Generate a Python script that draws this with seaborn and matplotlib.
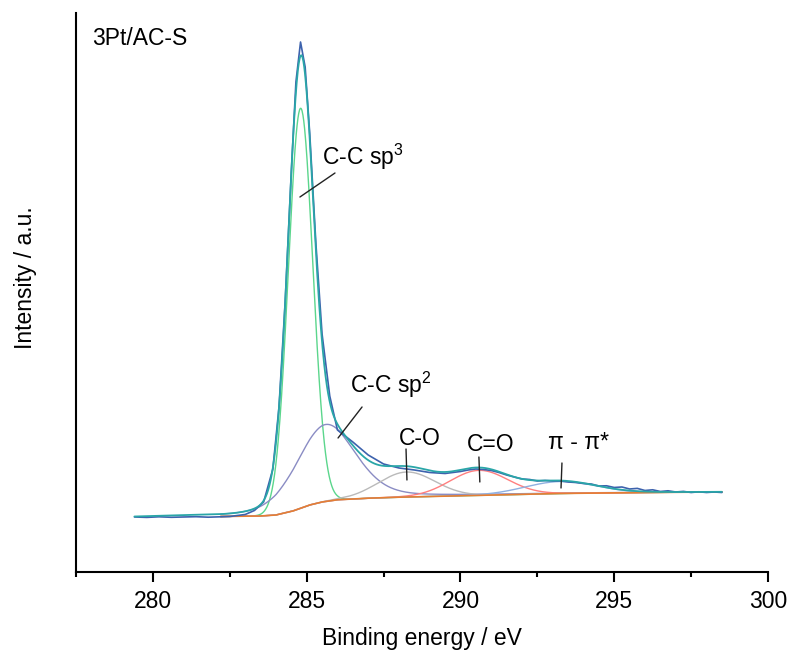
import numpy as np
import pandas as pd
import matplotlib
matplotlib.use('Agg')
import matplotlib.pyplot as plt
from matplotlib.ticker import MultipleLocator
import seaborn as sns

data_x = [279.4, 279.8, 280.2, 280.6, 281.0, 281.4, 281.8, 282.2, 282.5, 283.0, 283.3, 283.6,
          283.9, 284.1, 284.3, 284.5, 284.65, 284.8, 284.95, 285.1, 285.3, 285.5, 285.75,
          286.0, 286.5, 287.0, 287.5, 288.0, 288.5, 289.0, 289.5, 290.0, 290.25, 290.5,
          290.75, 291.0, 291.25, 291.5, 291.75, 292.0, 292.25, 292.5, 292.75, 293.0, 293.25,
          293.5, 293.75, 294.0, 294.25, 294.5, 294.75, 295.0, 295.25, 295.5, 295.75, 296.0,
          296.25, 296.5, 296.75, 297.0, 297.25, 297.5, 297.75, 298.0, 298.25, 298.5]
data_y = [5.5, 5.46, 5.52, 5.47, 5.5, 5.53, 5.48, 5.52, 5.55, 5.75, 6.15, 7.0,
          10.3, 16.5, 27.0, 40.0, 49.0, 53.0, 50.5, 43.8, 32.8, 23.8, 17.6,
          14.2, 13.0, 11.7, 10.8, 10.4, 10.2, 9.95, 9.85, 10.05, 10.2, 10.3,
          10.25, 10.15, 9.95, 9.7, 9.5, 9.3, 9.25, 9.1, 9.15, 9.1, 9.1,
          9.0, 8.95, 8.85, 8.8, 8.6, 8.62, 8.45, 8.5, 8.3, 8.36, 8.15,
          8.22, 8.05, 8.12, 8.0, 8.06, 7.95, 8.02, 7.95, 8.0, 7.95]

# Shirley background
bg_x = [282.2, 283.5, 284.0, 284.55, 285.1, 285.5, 286.0, 287.0, 288.0, 290.0, 293.2, 296.0, 298.5]
bg_y = [5.55, 5.6, 5.7, 6.1, 6.7, 7.0, 7.22, 7.38, 7.48, 7.62, 7.85, 7.95, 8.0]

# fitted components
comp_names = ['C-C sp3', 'C-C sp2', 'C-O', 'C=O', 'pi-pi*']
comp_center = [284.8, 285.62, 288.25, 290.6, 293.25]
comp_height = [40.0, 7.7, 2.5, 2.5, 1.2]
comp_fwhm = [0.93, 2.25, 2.15, 2.2, 2.7]
comp_lfrac = [0.0, 0.3, 0.0, 0.0, 0.0]
comp_colors = ['#5bd68c', '#8a8cc4', '#bababa', '#ff7f7f', '#8fb0e0']

labels = ['C-C sp$^3$', 'C-C sp$^2$', 'C-O', 'C=O', 'π - π*']

sns.set_style('ticks')
plt.rcParams['font.family'] = ['Liberation Sans', 'DejaVu Sans']
plt.rcParams['mathtext.fontset'] = 'custom'
plt.rcParams['mathtext.rm'] = 'Liberation Sans'
plt.rcParams['mathtext.it'] = 'Liberation Sans:italic'
plt.rcParams['text.color'] = 'black'
plt.rcParams['axes.labelcolor'] = 'black'
plt.rcParams['xtick.color'] = 'black'
plt.rcParams['xtick.labelcolor'] = 'black'


def pseudo_voigt(x, c, h, w, eta):
    g = np.exp(-4 * np.log(2) * ((x - c) / w) ** 2)
    l = 1 / (1 + 4 * ((x - c) / w) ** 2)
    return h * ((1 - eta) * g + eta * l)


grid = np.linspace(bg_x[0], bg_x[-1], 1200)
bg_grid = np.interp(grid, bg_x, bg_y)

rows = []
envelope = bg_grid.copy()
for name, c, h, w, eta in zip(comp_names, comp_center, comp_height, comp_fwhm, comp_lfrac):
    peak = pseudo_voigt(grid, c, h, w, eta)
    envelope += peak
    rows.append(pd.DataFrame({'x': grid, 'y': bg_grid + peak, 'comp': name}))
comps = pd.concat(rows, ignore_index=True)

env_x = np.concatenate([[data_x[0]], grid])
env_y = np.concatenate([[bg_y[0]], envelope])

fig = plt.figure(figsize=(7.92, 6.54), dpi=100)
ax = fig.add_axes([0.0960, 0.1254, 0.8737, 0.8547])

sns.lineplot(data=comps, x='x', y='y', hue='comp', palette=dict(zip(comp_names, comp_colors)),
             estimator=None, sort=False, linewidth=1.0, legend=False, ax=ax)
sns.lineplot(x=bg_x, y=bg_y, color='#e67e33', linewidth=1.2, ax=ax)
sns.lineplot(x=data_x, y=data_y, color='#3d62ad', linewidth=1.2, sort=False, ax=ax)
sns.lineplot(x=env_x, y=env_y, color='#2aa6a8', linewidth=1.3, sort=False, ax=ax)

# peak labels with leader lines
label_pos = [(285.5, 40.7), (286.41, 17.9), (288.0, 12.7), (290.21, 12.1), (292.85, 12.3)]
leaders = [((285.92, 39.9), (284.78, 37.5)),
           ((286.80, 16.5), (286.02, 13.4)),
           ((288.23, 12.3), (288.26, 9.2)),
           ((290.60, 11.5), (290.63, 9.0)),
           ((293.30, 10.9), (293.27, 8.4))]
for txt, (tx, ty), (p0, p1) in zip(labels, label_pos, leaders):
    ax.text(tx, ty, txt, fontsize=16.5, ha='left', va='baseline')
    ax.annotate('', xy=p1, xytext=p0,
                arrowprops=dict(arrowstyle='-', color='#222222', lw=1.0, shrinkA=0, shrinkB=0))

ax.text(0.023, 0.943, '3Pt/AC-S', transform=ax.transAxes, fontsize=16.5, ha='left', va='baseline')

ax.set_xlim(277.5, 300)
ax.set_ylim(0, 55.9)
ax.xaxis.set_major_locator(MultipleLocator(5))
ax.xaxis.set_minor_locator(MultipleLocator(2.5))
ax.set_yticks([])
ax.tick_params(axis='x', which='major', length=7.2, width=1.5, labelsize=16.5, pad=6, color='black')
ax.tick_params(axis='x', which='minor', length=3.5, width=1.5, color='black')
for s in ['top', 'right']:
    ax.spines[s].set_visible(False)
for s in ['left', 'bottom']:
    ax.spines[s].set_linewidth(1.5)
    ax.spines[s].set_color('black')

ax.set_xlabel('Binding energy / eV', fontsize=16.5, labelpad=10)
ax.set_ylabel('Intensity / a.u.', fontsize=16.5)
ax.yaxis.set_label_coords(-0.056, 0.526)

fig.savefig('out.png', dpi=100)
